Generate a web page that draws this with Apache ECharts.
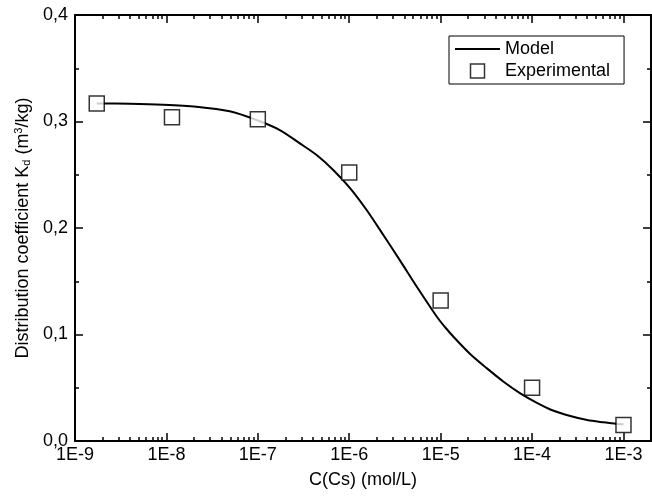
<!DOCTYPE html>
<html>
<head>
<meta charset="utf-8">
<script src="https://cdn.jsdelivr.net/npm/echarts@6/dist/echarts.min.js"></script>
<style>
  html, body { margin: 0; padding: 0; background: #fff; }
  #chart { width: 652px; height: 496px; }
</style>
</head>
<body>
<div id="chart"></div>
<script>
// model curve
const modelC = [1.73e-9, 3.95e-9, 9.17e-9, 2.13e-8, 4.93e-8, 9.68e-8, 1.74e-7, 2.88e-7, 4.40e-7, 6.68e-7,
  1.02e-6, 1.55e-6, 2.36e-6, 3.60e-6, 5.48e-6, 9.08e-6, 1.12e-5, 1.38e-5, 2.10e-5, 3.21e-5,
  4.88e-5, 7.43e-5, 1.13e-4, 1.72e-4, 2.62e-4, 4.0e-4, 6.08e-4, 8.53e-4, 1.0e-3]
const modelKd = [0.317, 0.3167, 0.3158, 0.3139, 0.3096, 0.3014, 0.292, 0.2795, 0.2685, 0.2545,
  0.2375, 0.2169, 0.1934, 0.1694, 0.1449, 0.1167, 0.1068, 0.0979, 0.0817, 0.0682,
  0.0557, 0.0448, 0.0359, 0.0284, 0.0235, 0.0197, 0.0175, 0.016, 0.0157]

// experimental points
const expC = [1.73e-9, 1.15e-8, 1.0e-7, 1.0e-6, 1.0e-5, 1.0e-4, 1.0e-3]
const expKd = [0.317, 0.304, 0.302, 0.252, 0.132, 0.050, 0.015]

const xMajor = [1e-9, 1e-8, 1e-7, 1e-6, 1e-5, 1e-4, 1e-3]
const yLabels = ['0,0', '0,1', '0,2', '0,3', '0,4']

const xMinor = []
xMajor.forEach(d => {
  for (let k = 2; k <= 9; k++) {
    if (d * k <= 2e-3) xMinor.push(d * k)
  }
})

const font = 'Arial, "Liberation Sans", sans-serif'
const black = '#000'

function xAxisOf(position, major) {
  return {
    type: 'log',
    logBase: 10,
    min: 1e-9,
    max: 2e-3,
    position: position,
    axisLine: { show: major, onZero: false, lineStyle: { color: black, width: 2 } },
    axisTick: {
      show: true,
      inside: true,
      length: major ? 8 : 4,
      customValues: major ? xMajor : xMinor,
      lineStyle: { color: black, width: 1.5 }
    },
    axisLabel: {
      show: major && position === 'bottom',
      customValues: xMajor,
      formatter: v => '1E' + Math.round(Math.log10(v)),
      color: black,
      fontFamily: font,
      fontSize: 18,
      margin: 5
    },
    splitLine: { show: false },
    minorTick: { show: false },
    name: major && position === 'bottom' ? 'C(Cs) (mol/L)' : '',
    nameLocation: 'middle',
    nameGap: 30,
    nameTextStyle: { color: black, fontFamily: font, fontSize: 18 }
  }
}

function yAxisOf(position) {
  const left = position === 'left'
  return {
    type: 'value',
    min: 0,
    max: 0.4,
    interval: 0.1,
    position: position,
    axisLine: { show: true, onZero: false, lineStyle: { color: black, width: 2 } },
    axisTick: { show: true, inside: true, length: 8, lineStyle: { color: black, width: 1.5 } },
    minorTick: { show: true, splitNumber: 2, length: 4, lineStyle: { color: black, width: 1.5 } },
    axisLabel: {
      show: left,
      formatter: v => yLabels[Math.round(v * 10)],
      color: black,
      fontFamily: font,
      fontSize: 18,
      margin: 7
    },
    splitLine: { show: false },
    name: left ? '{t|Distribution coefficient K}{sub|d}{t| (m}{sup|3}{t|/kg)}' : '',
    nameLocation: 'middle',
    nameGap: 42,
    nameRotate: 90,
    nameTextStyle: {
      color: black,
      fontFamily: font,
      fontSize: 18,
      rich: {
        t: { fontFamily: font, fontSize: 18, color: black },
        sub: { fontFamily: font, fontSize: 11, color: black, verticalAlign: 'bottom', padding: [8, 0, 0, 0] },
        sup: { fontFamily: font, fontSize: 11, color: black, verticalAlign: 'top', padding: [0, 0, 8, 0] }
      }
    }
  }
}

const chart = echarts.init(document.getElementById('chart'), null, { renderer: 'canvas' })

const option = {
  animation: false,
  backgroundColor: '#fff',
  grid: { left: 75, right: 1, top: 15, bottom: 55, containLabel: false },
  legend: {
    orient: 'vertical',
    left: 449,
    top: 36,
    padding: [4, 14, 4, 6],
    borderColor: black,
    borderWidth: 1,
    itemWidth: 45,
    itemHeight: 14,
    itemGap: 4,
    symbolKeepAspect: true,
    textStyle: { color: black, fontFamily: font, fontSize: 18 },
    data: [
      {
        name: 'Model',
        icon: 'path://M0,0H45V2H0Z',
        itemStyle: { color: black, borderWidth: 0 }
      },
      {
        name: 'Experimental',
        icon: 'path://M0,0H10V10H0Z',
        itemStyle: { color: '#fff', borderColor: black, borderWidth: 1.5 }
      }
    ]
  },
  xAxis: [
    xAxisOf('bottom', true),
    xAxisOf('bottom', false),
    xAxisOf('top', true),
    xAxisOf('top', false)
  ],
  yAxis: [yAxisOf('left'), yAxisOf('right')],
  series: [
    {
      name: 'Model',
      type: 'line',
      xAxisIndex: 0,
      yAxisIndex: 0,
      data: modelC.map((c, i) => [c, modelKd[i]]),
      smooth: 0.3,
      showSymbol: false,
      symbol: 'none',
      lineStyle: { color: black, width: 2 },
      itemStyle: { color: black },
      z: 2
    },
    {
      name: 'Experimental',
      type: 'scatter',
      xAxisIndex: 0,
      yAxisIndex: 0,
      data: expC.map((c, i) => [c, expKd[i]]),
      symbol: 'rect',
      symbolSize: 15,
      itemStyle: { color: '#fff', borderColor: black, borderWidth: 1.5 },
      z: 3
    }
  ]
}

chart.setOption(option)
window.addEventListener('resize', chart.resize)
</script>
</body>
</html>
